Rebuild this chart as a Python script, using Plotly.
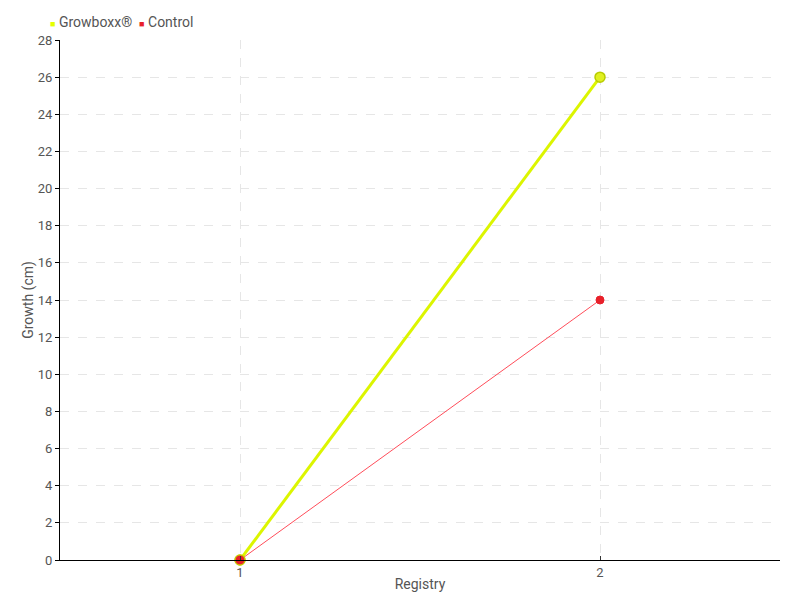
import plotly.graph_objects as go

# data
registry = [1, 2]
growboxx = [0, 26]
control = [0, 14]

y_ticks = list(range(0, 29, 2))

GREEN = "#dcf500"
RED = "#e8202a"
FONT = "Roboto, 'Noto Sans', sans-serif"

fig = go.Figure()

fig.add_trace(go.Scatter(
    x=registry, y=control, mode="lines+markers", name="Control",
    line=dict(color="#ff4d5a", width=1),
    marker=dict(color=RED, size=8, line=dict(color=RED, width=1)),
    cliponaxis=False,
))
fig.add_trace(go.Scatter(
    x=registry, y=growboxx, mode="lines+markers", name="Growboxx®",
    line=dict(color=GREEN, width=3),
    marker=dict(color="#e0f020", size=10, line=dict(color="#b8cc00", width=1.5)),
    cliponaxis=False,
))
# red point drawn on top at the shared start point, like the reference
fig.add_trace(go.Scatter(
    x=registry[:1], y=control[:1], mode="markers",
    marker=dict(color=RED, size=10, line=dict(color="#c8d800", width=1)),
    cliponaxis=False, hoverinfo="skip",
))

legend_text = (
    "<span style='color:#e5ff00;font-size:9px'>■</span> Growboxx®  "
    "<span style='color:#e8202a;font-size:9px'>■</span> Control"
)

fig.update_layout(
    width=800, height=600,
    paper_bgcolor="white", plot_bgcolor="white",
    font=dict(family=FONT, size=13, color="#555555"),
    margin=dict(l=60, r=20, t=40, b=40, autoexpand=False),
    showlegend=False,
    annotations=[dict(
        text=legend_text, xref="paper", yref="paper",
        x=-0.016, y=1.035, xanchor="left", yanchor="middle",
        showarrow=False, font=dict(family=FONT, size=14, color="#555555"),
    )],
    xaxis=dict(
        range=[0.5, 2.5], tickvals=registry, ticktext=[str(v) for v in registry],
        showgrid=True, gridcolor="#e6e6e6", griddash="dash", gridwidth=1,
        showline=True, linecolor="black", linewidth=1,
        ticks="inside", ticklen=4, tickcolor="#333333",
        zeroline=False,
        title=dict(text="Registry", standoff=0, font=dict(size=14)),
    ),
    yaxis=dict(
        range=[0, 28], tickvals=y_ticks,
        showgrid=True, gridcolor="#e6e6e6", griddash="dash", gridwidth=1,
        showline=True, linecolor="black", linewidth=1,
        ticks="outside", ticklen=4, tickcolor="black",
        zeroline=False,
        title=dict(text="Growth (cm)", standoff=0, font=dict(size=14)),
    ),
)

# drop the default page margin so the 800x600 figure fills the window
fig.write_html(
    "out.html",
    config={"displayModeBar": False},
    post_script="document.body.style.margin='0';",
)
